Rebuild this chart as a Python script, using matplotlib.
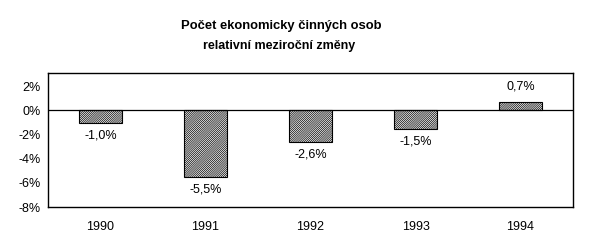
import matplotlib
matplotlib.use("Agg")
import matplotlib.pyplot as plt

plt.rcParams['font.family'] = ['Liberation Sans', 'DejaVu Sans']
plt.rcParams['hatch.linewidth'] = 0.5
plt.rcParams['hatch.color'] = '#333333'

years = ['1990', '1991', '1992', '1993', '1994']
changes = [-1.0, -5.5, -2.6, -1.5, 0.7]
yticks = [2, 0, -2, -4, -6, -8]

fig = plt.figure(figsize=(5.92, 2.4), dpi=100)
ax = fig.add_axes([0.081, 0.1375, 0.887, 0.558])

x = range(len(years))
ax.bar(x, changes, width=0.41, color='white', edgecolor='black',
       linewidth=0.8, hatch='////////////////')
ax.axhline(0, color='black', linewidth=0.9)

for i, v in zip(x, changes):
    if v < 0:
        ax.text(i, v - 0.55, f"{v:.1f}%".replace('.', ','), ha='center',
                va='top', fontsize=9)
    else:
        ax.text(i, v + 0.75, f"{v:.1f}%".replace('.', ','), ha='center',
                va='bottom', fontsize=9)

ax.set_xlim(-0.5, 4.5)
ax.set_ylim(-8, 3.1)
ax.set_xticks(list(x))
ax.set_xticklabels(years, fontsize=9)
ax.set_yticks(yticks)
ax.set_yticklabels([f"{t}%" for t in yticks], fontsize=9)
ax.tick_params(length=0)
ax.tick_params(axis='y', pad=5.5)
ax.tick_params(axis='x', pad=10)
for s in ax.spines.values():
    s.set_linewidth(1.0)

fig.text(0.475, 0.89, 'Počet ekonomicky činných osob', ha='center',
         va='center', fontsize=9.4, fontweight='bold')
fig.text(0.472, 0.81, 'relativní meziroční změny', ha='center',
         va='center', fontsize=9, fontweight='bold')

fig.savefig('out.png', dpi=100)
